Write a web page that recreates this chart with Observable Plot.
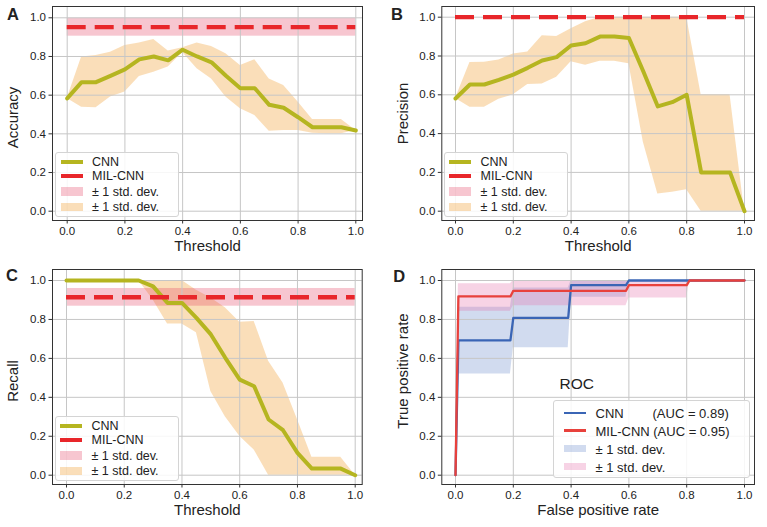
<!DOCTYPE html>
<html><head><meta charset="utf-8">
<script src="https://cdn.jsdelivr.net/npm/d3@7"></script>
<script src="https://cdn.jsdelivr.net/npm/@observablehq/plot@0.6"></script>
<style>
body{margin:0;background:#fff;}
#fig{position:relative;width:767px;height:527px;font-family:"Liberation Sans",Arial,sans-serif;color:#222;background:#fff;}
.panel{position:absolute;}
.panel svg{display:block;}
.legend{position:absolute;background:rgba(255,255,255,0.85);border:1px solid #d4d4d4;border-radius:3px;box-sizing:border-box;}
.sw{position:absolute;}
.lt{position:absolute;white-space:nowrap;line-height:1;transform:translateY(-50%);}
</style></head><body><div id="fig"></div>
<script>
// ---------- data ----------
const thresholds = [0,0.05,0.1,0.15,0.2,0.25,0.3,0.35,0.4,0.45,0.5,0.55,0.6,0.65,0.7,0.75,0.8,0.85,0.9,0.95,1.0];
const axisTicks = [0,0.2,0.4,0.6,0.8,1.0];

// A: Accuracy
const accCnn   = [0.583,0.667,0.667,0.700,0.733,0.785,0.800,0.780,0.835,0.800,0.770,0.700,0.636,0.636,0.550,0.535,0.486,0.434,0.434,0.434,0.417];
const accCnnLo = [0.583,0.538,0.535,0.590,0.616,0.697,0.719,0.745,0.820,0.736,0.684,0.590,0.530,0.495,0.414,0.417,0.417,0.403,0.400,0.400,0.417];
const accCnnHi = [0.583,0.797,0.805,0.822,0.857,0.870,0.888,0.828,0.845,0.870,0.852,0.814,0.753,0.783,0.684,0.650,0.564,0.474,0.474,0.474,0.417];
const accMil = {m:0.952, lo:0.905, hi:0.998};

// B: Precision
const precCnn   = [0.581,0.653,0.653,0.677,0.704,0.739,0.777,0.794,0.854,0.866,0.900,0.900,0.893,0.720,0.540,0.562,0.600,0.200,0.200,0.200,0.000];
const precCnnLo = [0.581,0.536,0.536,0.577,0.600,0.653,0.656,0.690,0.771,0.752,0.773,0.773,0.760,0.356,0.089,0.098,0.110,0.000,0.000,0.000,0.000];
const precCnnHi = [0.581,0.766,0.768,0.780,0.810,0.820,0.905,0.900,0.940,0.977,1.000,1.000,1.000,1.000,1.000,1.000,1.000,0.600,0.600,0.600,0.000];
const precMil = {m:1.0, lo:1.0, hi:1.0};

// C: Recall
const recCnn   = [1,1,1,1,1,1,0.970,0.885,0.885,0.808,0.723,0.603,0.491,0.457,0.286,0.231,0.115,0.034,0.034,0.034,0.000];
const recCnnLo = [1,1,1,1,1,1,0.900,0.777,0.777,0.731,0.430,0.300,0.200,0.130,0.000,0.000,0.000,0.000,0.000,0.000,0.000];
const recCnnHi = [1,1,1,1,1,1,1.000,1.000,1.000,0.950,0.910,0.860,0.785,0.790,0.585,0.474,0.286,0.092,0.092,0.092,0.000];
const recMil = {m:0.914, lo:0.868, hi:0.959};

// D: ROC
const rocCnnFpr = [0,0.01,0.19,0.2,0.39,0.4,0.59,0.6,1.0];
const rocCnnTpr = [0,0.692,0.692,0.808,0.808,0.976,0.976,1.0,1.0];
const rocCnnLo  = [0,0.520,0.520,0.654,0.654,0.914,0.914,1.0,1.0];
const rocCnnHi  = [0,0.862,0.862,0.962,0.962,1.000,1.000,1.0,1.0];
const rocMilFpr = [0,0.01,0.19,0.2,0.59,0.6,0.8,0.81,1.0];
const rocMilTpr = [0,0.918,0.918,0.947,0.947,0.976,0.976,1.0,1.0];
const rocMilLo  = [0,0.842,0.842,0.870,0.870,0.910,0.910,1.0,1.0];
const rocMilHi  = [0,0.983,0.983,1.000,1.000,1.000,1.000,1.0,1.0];

// ---------- styles ----------
const OLIVE = "#b5b520", ORANGE = "#ee9116", PINK = "#e44162", RED = "#e8262a";
const BLUE_L = "#3a65b5", RED_L = "#e8413c", BLUE_B = "#466ebe", PINK_B = "#e66eaa";
const FONT = "'Liberation Sans', Arial, sans-serif";

const rows = (xs, m, lo, hi) => xs.map((x, i) => ({x, m: m[i], lo: lo[i], hi: hi[i]}));
const fmt = d => d.toFixed(1);

const fig = document.getElementById("fig");

function panel(c) {
  const svg = Plot.plot({
    width: c.width, height: c.height,
    marginLeft: c.mL, marginRight: c.mR, marginTop: c.mT, marginBottom: c.mB,
    style: {fontFamily: FONT, fontSize: "11.5px", color: "#222", background: "transparent", overflow: "visible"},
    x: {domain: [0, 1], insetLeft: c.xIns[0], insetRight: c.xIns[1]},
    y: {domain: [0, 1], insetTop: c.yIns[0], insetBottom: c.yIns[1]},
    marks: [
      ...c.fills,
      Plot.gridX(axisTicks, {stroke: "#c6c6c6", strokeOpacity: 1, strokeWidth: 1}),
      Plot.gridY(axisTicks, {stroke: "#c6c6c6", strokeOpacity: 1, strokeWidth: 1}),
      ...c.lines,
      Plot.frame({stroke: "#333", strokeWidth: 1}),
      Plot.axisX(axisTicks, {tickSize: 3.5, tickPadding: 3, tickFormat: fmt, label: null, stroke: "#333", fontSize: 11.5}),
      Plot.axisY(axisTicks, {tickSize: 3.5, tickPadding: 3, tickFormat: fmt, label: null, stroke: "#333", fontSize: 11.5}),
      Plot.text([c.xlabel], {text: d => d, frameAnchor: "bottom", textAnchor: "middle", lineAnchor: "middle", dy: 26, fontSize: 15}),
      Plot.text([c.ylabel], {text: d => d, frameAnchor: "left", textAnchor: "middle", lineAnchor: "middle", rotate: -90, dx: -39, dy: c.ylDy, fontSize: 15}),
      Plot.text([c.letter], {text: d => d, frameAnchor: "top-left", dx: c.letterD[0], dy: c.letterD[1], textAnchor: "start", lineAnchor: "middle", fontWeight: "bold", fontSize: 16.5}),
      ...(c.extra || [])
    ]
  });
  const div = document.createElement("div");
  div.className = "panel";
  div.style.left = c.left + "px";
  div.style.top = c.top + "px";
  div.appendChild(svg);
  fig.appendChild(div);
}

function thresholdPanel(c, data, mil) {
  const r = rows(thresholds, data[0], data[1], data[2]);
  c.fills = [
    Plot.areaY(r, {x: "x", y1: "lo", y2: "hi", fill: ORANGE, fillOpacity: 0.3}),
    Plot.rect([mil], {x1: 0, x2: 1, y1: "lo", y2: "hi", fill: PINK, fillOpacity: 0.3})
  ];
  c.lines = [
    Plot.line(r, {x: "x", y: "m", stroke: OLIVE, strokeWidth: 4, strokeLinejoin: "round"}),
    Plot.ruleY([mil], {y: "m", x1: 0, x2: 1, stroke: RED, strokeWidth: 4.3, strokeDasharray: "19,9"})
  ];
  panel(c);
}

thresholdPanel({left: 0, top: 0, width: 384, height: 264, mL: 52, mR: 22, mT: 6, mB: 44,
  xIns: [14.7, 6.7], yIns: [11.3, 9.3], xlabel: "Threshold", ylabel: "Accuracy", ylDy: 4, letter: "A", letterD: [-45.5, 8.3]},
  [accCnn, accCnnLo, accCnnHi], accMil);

thresholdPanel({left: 384, top: 0, width: 383, height: 264, mL: 57.3, mR: 13, mT: 6, mB: 44,
  xIns: [13.7, 10], yIns: [10.7, 9.3], xlabel: "Threshold", ylabel: "Precision", ylDy: 0, letter: "B", letterD: [-50.8, 8.3]},
  [precCnn, precCnnLo, precCnnHi], precMil);

thresholdPanel({left: 0, top: 264, width: 384, height: 263, mL: 52, mR: 22.3, mT: 5, mB: 43,
  xIns: [14, 7], yIns: [11, 9.3], xlabel: "Threshold", ylabel: "Recall", ylDy: 4, letter: "C", letterD: [-46.5, 6.5]},
  [recCnn, recCnnLo, recCnnHi], recMil);

// D: ROC
{
  const rc = rows(rocCnnFpr, rocCnnTpr, rocCnnLo, rocCnnHi);
  const rm = rows(rocMilFpr, rocMilTpr, rocMilLo, rocMilHi);
  panel({left: 384, top: 264, width: 383, height: 263, mL: 57.3, mR: 13, mT: 5, mB: 43,
    xIns: [13.7, 10], yIns: [11, 9.3], xlabel: "False positive rate", ylabel: "True positive rate", ylDy: -6, letter: "D", letterD: [-48.5, 7],
    fills: [
      Plot.areaY(rc, {x: "x", y1: "lo", y2: "hi", fill: BLUE_B, fillOpacity: 0.25}),
      Plot.areaY(rm, {x: "x", y1: "lo", y2: "hi", fill: PINK_B, fillOpacity: 0.3})
    ],
    lines: [
      Plot.line(rc, {x: "x", y: "m", stroke: BLUE_L, strokeWidth: 2.3}),
      Plot.line(rm, {x: "x", y: "m", stroke: RED_L, strokeWidth: 2.3})
    ],
    extra: [
      Plot.text(["ROC"], {x: 0.36, y: 0.468, text: d => d, textAnchor: "start", lineAnchor: "middle", fontSize: 15.5})
    ]
  });
}

// ---------- legends ----------
function legend(box, fontSize, entries) {
  const lg = document.createElement("div");
  lg.className = "legend";
  Object.assign(lg.style, {left: box.left + "px", top: box.top + "px", width: box.w + "px", height: box.h + "px", fontSize: fontSize + "px"});
  for (const e of entries) {
    const sw = document.createElement("div");
    sw.className = "sw";
    const h = e.kind === "line" ? e.lw : e.ph;
    Object.assign(sw.style, {left: box.swL + "px", width: box.swW + "px", top: (e.y - h / 2) + "px", height: h + "px",
      background: e.color, opacity: e.op == null ? 1 : e.op});
    lg.appendChild(sw);
    const t = document.createElement("span");
    t.className = "lt";
    t.textContent = e.text;
    Object.assign(t.style, {left: box.txL + "px", top: e.y + "px"});
    lg.appendChild(t);
    if (e.text2) {
      const t2 = document.createElement("span");
      t2.className = "lt";
      t2.textContent = e.text2;
      Object.assign(t2.style, {left: e.t2L + "px", top: e.y + "px"});
      lg.appendChild(t2);
    }
  }
  fig.appendChild(lg);
}

const thrEntries = [
  {kind: "line", lw: 4, color: OLIVE, text: "CNN", y: 8.5},
  {kind: "line", lw: 4, color: RED, text: "MIL-CNN", y: 22.5},
  {kind: "patch", ph: 8.5, color: PINK, op: 0.3, text: "± 1 std. dev.", y: 38.5},
  {kind: "patch", ph: 8.5, color: ORANGE, op: 0.3, text: "± 1 std. dev.", y: 54}
];
legend({left: 55, top: 152, w: 124, h: 65, swL: 4.5, swW: 22, txL: 36}, 12.5, thrEntries);
legend({left: 443.5, top: 152, w: 124, h: 65, swL: 4.5, swW: 22, txL: 36}, 12.5, thrEntries);
legend({left: 54.5, top: 416, w: 124, h: 65, swL: 4.5, swW: 22, txL: 36}, 12.5, thrEntries);

legend({left: 553, top: 400, w: 197, h: 77.5, swL: 9.5, swW: 22, txL: 41.5}, 13, [
  {kind: "line", lw: 2.3, color: BLUE_L, text: "CNN", text2: "(AUC = 0.89)", t2L: 98.5, y: 12},
  {kind: "line", lw: 2.3, color: RED_L, text: "MIL-CNN (AUC = 0.95)", y: 29.5},
  {kind: "patch", ph: 7.5, color: BLUE_B, op: 0.25, text: "± 1 std. dev.", y: 47.5},
  {kind: "patch", ph: 7.5, color: PINK_B, op: 0.3, text: "± 1 std. dev.", y: 65.5}
]);
</script></body></html>
